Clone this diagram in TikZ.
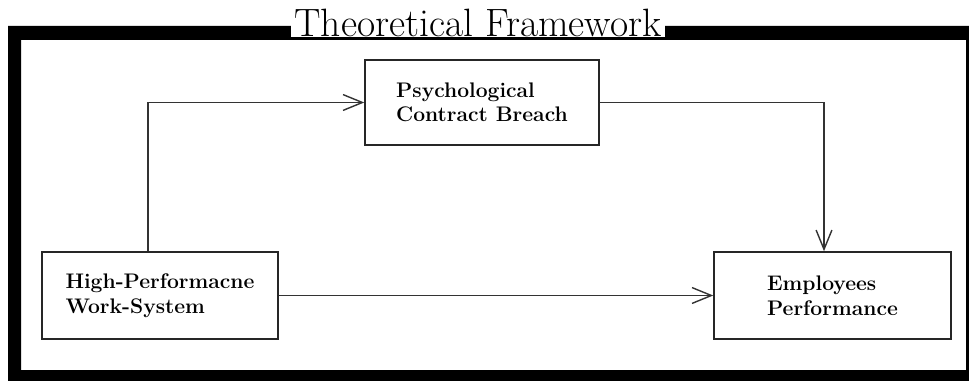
\documentclass[tikz,border=0pt]{standalone}
\usepackage{tikz}
\usetikzlibrary{arrows.meta}

\tikzset{
  factor/.style={draw=black!85,line width=0.9pt,fill=white,align=left,
    font=\fontsize{12}{14}\selectfont\bfseries,inner sep=0pt},
  link/.style={draw=black!80,line width=0.9pt,
    -{Straight Barb[length=11pt,width=9pt,line width=0.8pt]}}
}

\begin{document}
\begin{tikzpicture}[x=0.02cm,y=-0.02cm]
          \useasboundingbox (0,0) rectangle (969,381);
          \clip (0,0) rectangle (969,381);
          \fill[white] (0,0) rectangle (969,381);
          % outer frame
          \fill[black,even odd rule] (8,26) rectangle (990,395) (21,40) rectangle (966,370);
          \node[fill=white,inner xsep=2pt,inner ysep=0pt,font=\fontsize{22.5}{24}\selectfont] (title) at (478,23) {Theoretical Framework};
          % the three constructs
          \node[factor,minimum width=4.68cm,minimum height=1.7cm] (pcb) at (482,102.5) {Psychological\\Contract Breach};
          \node[factor,minimum width=4.72cm,minimum height=1.74cm] (hpws) at (160,295.5) {High-Performacne\\Work-System};
          \node[factor,minimum width=4.74cm,minimum height=1.74cm] (ep) at (832.5,295.5) {Employees\\Performance};
          % paths
          \draw[link,line width=1.1pt] ([xshift=-0.24cm]hpws.north) |- (pcb.west);
          \draw[link] (pcb.east) -| ([xshift=-0.17cm]ep.north);
          \draw[link] (hpws.east) -- (ep.west);
        \end{tikzpicture}
\end{document}
